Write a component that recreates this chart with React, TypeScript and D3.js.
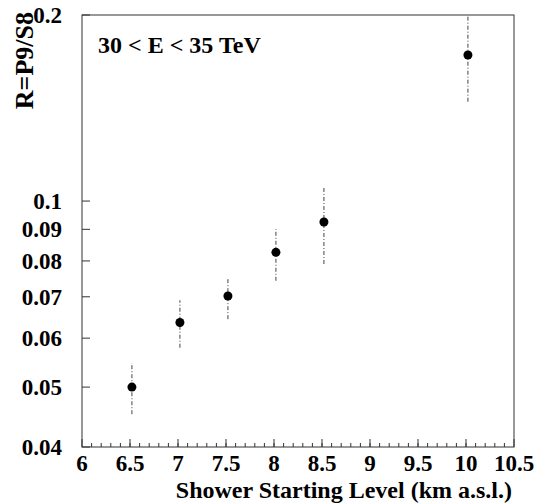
import React from 'react'
import * as d3 from 'd3'

// shower starting level (km a.s.l.) and ratio R = P9/S8 with error bar ends
const levels = [6.52, 7.02, 7.52, 8.02, 8.52, 10.02]
const ratios = [0.0500, 0.0636, 0.0702, 0.0826, 0.0925, 0.1723]
const lowErr = [0.0452, 0.0579, 0.0644, 0.0743, 0.0791, 0.1448]
const highErr = [0.0547, 0.0691, 0.0753, 0.0901, 0.1052, 0.215]

const xTicks = [6, 6.5, 7, 7.5, 8, 8.5, 9, 9.5, 10, 10.5]
const xLabels = ['6', '6.5', '7', '7.5', '8', '8.5', '9', '9.5', '10', '10.5']
const yTicks = [0.04, 0.05, 0.06, 0.07, 0.08, 0.09, 0.1, 0.2]
const yLabels = ['0.04', '0.05', '0.06', '0.07', '0.08', '0.09', '0.1', '0.2']

const txt = (size: number) => ({
  fontFamily: "'Liberation Serif', 'Times New Roman', serif",
  fontWeight: 700,
  fontSize: size + 'px',
})

const App = () => {
  var left = 82
  var right = 514
  var top = 15
  var bottom = 447

  const x = d3.scaleLinear().domain([6, 10.5]).range([left, right])
  const y = d3.scaleLog().domain([0.04, 0.2]).range([bottom, top])

  const minor = d3.range(61, 105).map(v => v / 10)

  const clip = (v: number) => Math.min(v, 0.2)

  return (
    <svg width={553} height={503} style={{position: 'absolute', left: 0, top: 0, background: 'white'}}>
      <rect x={left} y={top} width={right - left} height={bottom - top} fill="none" stroke="#333" strokeWidth={1}/>

      <g stroke="#333" strokeWidth={1}>
        {minor.map((v, i) => (
          <line key={'m' + i} x1={x(v)} x2={x(v)} y1={bottom} y2={bottom - 4}/>
        ))}
        {xTicks.map((v, i) => (
          <line key={'x' + i} x1={x(v)} x2={x(v)} y1={bottom} y2={bottom - 8}/>
        ))}
        {yTicks.map((v, i) => (
          <line key={'y' + i} x1={left} x2={left + 8} y1={y(v)} y2={y(v)}/>
        ))}
      </g>

      {xTicks.map((v, i) => (
        <text key={'xl' + i} x={x(v)} y={471} style={txt(23)} textAnchor="middle">{xLabels[i]}</text>
      ))}
      {yTicks.map((v, i) => (
        <text key={'yl' + i} x={62} y={y(v) + 8} style={txt(23)} textAnchor="end">{yLabels[i]}</text>
      ))}

      <text x={512} y={498} style={txt(24)} textAnchor="end">Shower Starting Level (km a.s.l.)</text>
      <text transform="translate(33,12) rotate(-90)" style={txt(26)} textAnchor="end">R=P9/S8</text>
      <text x={98} y={53} style={txt(24)}>30 &lt; E &lt; 35 TeV</text>

      <g>
        {levels.map((v, i) => (
          <line key={'e' + i} x1={x(v)} x2={x(v)} y1={y(lowErr[i])} y2={y(clip(highErr[i]))}
            stroke="#444" strokeWidth={1} strokeDasharray="4,2,1,2"/>
        ))}
        {levels.map((v, i) => (
          <circle key={'p' + i} cx={x(v)} cy={y(ratios[i])} r={4.5} fill="black"/>
        ))}
      </g>
    </svg>
  )
}

export default App
